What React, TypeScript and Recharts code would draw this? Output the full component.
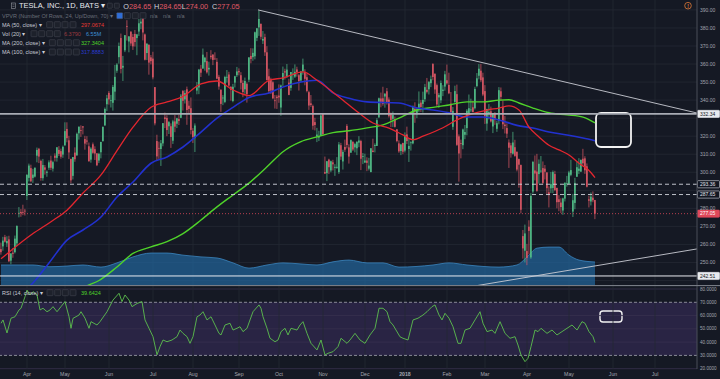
import React from "react";
import { ComposedChart, Bar, Line, Area, XAxis, YAxis, ReferenceLine, ReferenceArea } from "recharts";

type Candle = [number, number, number, number]; // open, high, low, close
type Pt = [number, number]; // bar index, value

// TSLA daily (BATS), 15 Mar 2017 .. 18 May 2018, one array per month
const mar17: Candle[] = [
  [257.4, 261.0, 254.3, 255.7], [258.9, 264.2, 256.5, 262.1], [264.0, 265.3, 261.0, 261.5], [260.6, 264.5, 258.6, 261.9],
  [262.8, 264.8, 250.2, 250.7], [251.0, 255.1, 249.0, 255.0], [255.4, 258.0, 252.6, 254.8], [255.7, 264.9, 255.0, 263.2],
  [260.6, 270.6, 259.0, 270.2], [277.0, 280.7, 275.0, 277.5], [278.0, 279.6, 275.3, 277.4], [278.0, 282.0, 276.2, 277.9],
  [278.7, 279.7, 276.0, 278.3],
];
const apr17: Candle[] = [
  [286.9, 299.0, 284.6, 298.5], [296.9, 304.8, 294.9, 303.7], [302.3, 304.2, 294.5, 295.0], [296.9, 301.9, 294.1, 298.7],
  [297.6, 302.7, 297.1, 302.5], [309.2, 313.7, 305.5, 312.4], [313.0, 313.5, 305.1, 308.7], [306.3, 307.0, 295.3, 296.8],
  [296.7, 307.4, 295.3, 304.0], [302.7, 304.0, 298.7, 301.4], [299.7, 301.0, 297.5, 300.3], [302.5, 306.6, 301.3, 305.5],
  [306.5, 309.2, 301.2, 302.5], [302.0, 306.4, 300.4, 305.6], [309.2, 310.5, 306.0, 308.0], [308.0, 314.0, 305.9, 313.8],
  [312.4, 314.5, 309.0, 310.2], [311.7, 313.1, 307.5, 308.6], [309.8, 314.8, 308.0, 314.1],
];
const may17: Candle[] = [
  [314.9, 327.7, 314.8, 322.8], [324.0, 327.7, 316.6, 318.9], [317.7, 320.2, 307.3, 311.0], [307.4, 307.5, 294.0, 295.5],
  [298.0, 308.5, 296.0, 308.4], [310.9, 313.8, 305.8, 307.2], [309.4, 322.0, 309.1, 321.3], [321.6, 325.5, 318.1, 325.2],
  [323.4, 326.0, 319.6, 323.1], [325.5, 325.5, 321.0, 324.8], [318.4, 320.2, 312.5, 315.9], [317.6, 320.0, 315.3, 317.0],
  [314.4, 316.5, 305.9, 306.1], [307.0, 313.9, 305.3, 313.1], [315.5, 316.5, 310.2, 310.8], [312.8, 314.4, 306.8, 310.4],
  [310.5, 310.5, 303.4, 303.9], [306.5, 310.8, 305.1, 310.2], [311.1, 316.9, 307.7, 316.8], [317.3, 325.5, 316.9, 325.1],
  [326.0, 335.9, 325.7, 335.1], [337.7, 342.9, 333.9, 341.0],
];
const jun17: Candle[] = [
  [344.0, 345.0, 337.5, 340.4], [339.8, 342.9, 335.9, 339.9], [338.5, 348.4, 334.2, 347.3], [344.7, 359.5, 340.0, 352.9],
  [356.3, 360.5, 355.1, 359.7], [363.8, 371.9, 360.2, 370.0], [374.4, 376.9, 354.8, 357.3], [358.0, 364.5, 350.6, 359.0],
  [367.6, 376.0, 366.6, 376.0], [381.1, 384.3, 373.0, 380.7], [372.5, 375.5, 366.5, 375.3], [378.0, 378.0, 370.1, 371.4],
  [375.0, 376.7, 367.8, 369.8], [376.7, 378.9, 369.7, 372.2], [374.4, 376.7, 364.9, 376.4], [378.0, 385.0, 375.5, 382.6],
  [382.5, 387.0, 379.3, 383.5], [386.7, 387.0, 373.1, 377.5], [376.4, 376.9, 362.0, 362.4], [366.1, 371.7, 362.2, 371.2],
  [370.6, 371.0, 354.1, 360.8], [363.7, 365.0, 359.8, 361.6],
];
const jul17: Candle[] = [
  [363.0, 366.8, 351.5, 352.6], [347.2, 347.2, 326.0, 327.1], [317.3, 320.8, 306.3, 308.8], [313.5, 317.0, 307.4, 313.2],
  [312.9, 317.9, 303.5, 316.1], [316.0, 327.3, 314.4, 327.2], [330.4, 333.1, 324.5, 329.5], [330.1, 331.6, 320.0, 323.4],
  [325.5, 328.4, 321.2, 327.8], [325.5, 327.1, 313.5, 319.6], [317.5, 329.1, 315.7, 328.2], [328.2, 331.7, 322.2, 325.3],
  [326.9, 330.2, 324.5, 329.9], [329.5, 331.9, 326.2, 328.4], [330.2, 343.4, 330.0, 342.5], [345.0, 345.6, 334.2, 339.6],
  [340.4, 345.5, 338.1, 343.9], [346.0, 347.5, 326.3, 334.5], [336.9, 339.6, 332.5, 335.1], [335.5, 341.5, 321.0, 323.5],
];
const aug17: Candle[] = [
  [323.0, 324.5, 316.2, 319.6], [318.9, 327.1, 311.2, 325.9], [345.3, 350.0, 343.2, 347.1], [347.0, 357.3, 343.3, 356.9],
  [357.4, 359.5, 352.8, 355.2], [357.5, 368.6, 357.4, 365.2], [361.0, 364.0, 356.3, 363.5], [361.6, 366.7, 354.7, 355.4],
  [357.0, 361.3, 353.6, 357.9], [364.6, 367.7, 362.6, 363.8], [365.2, 365.5, 359.4, 362.3], [363.0, 366.5, 362.5, 362.9],
  [361.2, 363.3, 351.6, 351.9], [352.9, 354.0, 345.8, 347.5], [345.8, 345.8, 333.5, 337.9], [341.1, 342.8, 337.2, 341.4],
  [339.0, 353.5, 338.3, 352.8], [352.5, 356.7, 349.7, 352.9], [354.2, 355.7, 347.3, 348.1], [347.3, 347.8, 339.7, 345.7],
  [339.5, 349.0, 338.8, 347.4], [349.7, 353.5, 347.0, 353.2], [353.8, 358.4, 352.8, 355.9],
];
const sep17: Candle[] = [
  [356.1, 357.6, 353.7, 355.4], [353.8, 355.5, 345.9, 349.6], [349.5, 351.0, 341.6, 344.5], [346.0, 352.5, 343.5, 350.6],
  [349.0, 349.8, 338.6, 343.4], [351.3, 363.7, 350.0, 363.7], [364.5, 368.8, 360.4, 362.8], [363.8, 368.7, 361.8, 366.2],
  [364.3, 378.0, 362.6, 377.6], [374.5, 380.0, 372.7, 379.8], [380.3, 389.6, 375.6, 385.0], [382.3, 382.4, 373.6, 375.1],
  [373.0, 378.3, 371.1, 373.9], [374.9, 376.8, 364.5, 366.5], [366.5, 369.9, 350.9, 351.1], [353.2, 357.4, 343.6, 345.0],
  [351.4, 352.4, 343.4, 345.3], [349.9, 350.5, 340.5, 341.0], [339.9, 342.8, 335.3, 339.6], [341.9, 342.9, 335.1, 341.1],
];
const oct17: Candle[] = [
  [342.5, 348.7, 338.5, 341.5], [335.9, 348.6, 331.3, 348.1], [351.3, 358.6, 347.9, 355.0], [356.0, 357.4, 351.4, 355.3],
  [353.1, 360.0, 352.3, 356.9], [349.7, 351.8, 342.7, 342.9], [346.8, 355.6, 345.2, 355.6], [353.9, 357.6, 351.2, 354.6],
  [353.0, 359.8, 352.3, 355.7], [357.0, 358.5, 353.0, 355.6], [353.8, 354.5, 345.3, 350.6], [350.9, 356.2, 350.1, 355.8],
  [356.0, 363.0, 354.1, 359.7], [355.6, 357.1, 348.2, 351.8], [352.7, 354.6, 344.3, 345.1], [344.4, 345.2, 334.6, 337.0],
  [338.2, 342.8, 336.2, 337.3], [336.7, 337.5, 323.6, 325.8], [327.8, 330.2, 323.2, 326.2], [319.8, 324.6, 316.7, 320.9],
  [319.2, 323.0, 317.3, 320.1], [320.2, 332.0, 320.2, 331.5],
];
const nov17: Candle[] = [
  [332.3, 332.6, 320.3, 321.1], [300.1, 308.7, 299.0, 299.3], [299.5, 306.3, 295.1, 306.1], [307.0, 307.5, 299.0, 302.8],
  [301.0, 306.5, 300.0, 306.1], [305.5, 306.9, 301.0, 304.4], [302.5, 304.5, 298.0, 303.0], [302.5, 308.4, 301.9, 303.0],
  [300.1, 316.8, 299.1, 315.4], [315.0, 316.3, 306.9, 308.7], [306.0, 312.5, 301.5, 311.3], [314.0, 318.1, 311.3, 312.5],
  [325.7, 326.7, 313.2, 315.1], [313.8, 315.5, 304.8, 308.7], [310.9, 318.2, 310.7, 317.8], [316.8, 317.4, 311.8, 312.6],
  [313.8, 316.4, 311.0, 315.6], [313.3, 317.3, 309.5, 316.8], [316.4, 320.0, 313.9, 317.6], [317.3, 318.0, 301.2, 307.5],
  [308.6, 310.7, 304.5, 308.9],
];
const dec17: Candle[] = [
  [305.4, 310.3, 305.1, 306.5], [306.5, 308.3, 300.6, 305.2], [302.0, 308.0, 301.0, 303.7], [300.1, 313.4, 300.0, 313.3],
  [312.0, 318.6, 311.1, 311.2], [314.6, 316.0, 311.0, 315.1], [314.6, 330.0, 314.6, 328.9], [330.5, 341.4, 330.0, 341.0],
  [340.9, 344.2, 336.0, 339.0], [341.0, 347.4, 336.9, 337.9], [342.0, 343.9, 335.8, 343.5], [344.9, 346.7, 337.5, 338.9],
  [340.3, 341.5, 330.3, 331.1], [332.7, 333.1, 325.0, 329.0], [329.6, 333.7, 325.1, 331.7], [329.5, 330.9, 324.8, 325.2],
  [323.8, 323.9, 316.6, 317.3], [316.0, 317.7, 310.8, 311.6], [311.8, 315.8, 309.5, 315.4], [316.2, 316.4, 310.0, 311.4],
];
const jan18: Candle[] = [
  [312.0, 322.1, 311.0, 320.5], [321.0, 325.3, 315.6, 317.3], [312.9, 318.6, 305.7, 314.6], [316.6, 317.2, 312.0, 316.6],
  [316.0, 337.0, 315.5, 336.4], [335.2, 338.8, 327.4, 333.7], [332.2, 336.2, 330.0, 334.8], [335.2, 344.8, 333.3, 338.0],
  [338.6, 340.0, 333.4, 336.2], [337.9, 344.7, 333.1, 340.1], [340.5, 349.0, 339.0, 347.2], [345.7, 352.3, 343.7, 344.6],
  [346.0, 350.6, 343.1, 350.0], [349.4, 353.6, 347.2, 351.6], [360.0, 360.5, 351.0, 352.8], [354.6, 354.8, 343.5, 345.9],
  [348.3, 349.2, 336.4, 337.6], [341.5, 344.0, 335.7, 342.9], [339.9, 350.9, 338.3, 349.5], [345.1, 348.3, 342.2, 345.8],
  [347.5, 356.2, 345.2, 354.3],
];
const feb18: Candle[] = [
  [351.0, 359.7, 348.6, 349.3], [348.4, 355.2, 343.3, 343.8], [338.0, 344.5, 332.5, 333.1], [325.2, 336.2, 323.5, 334.0],
  [339.0, 348.0, 338.5, 345.0], [343.3, 348.6, 314.6, 315.2], [319.9, 321.0, 294.8, 310.4], [316.1, 318.1, 307.7, 315.7],
  [315.0, 324.2, 312.8, 323.7], [320.8, 326.2, 318.3, 322.3], [324.5, 335.0, 320.5, 334.1], [332.5, 343.1, 332.1, 335.5],
  [334.5, 340.8, 333.3, 334.8], [336.0, 339.7, 333.3, 333.3], [335.5, 347.4, 334.8, 346.2], [347.8, 355.0, 347.1, 352.1],
  [353.5, 360.0, 351.5, 357.4], [356.3, 360.0, 350.0, 351.0], [352.6, 355.2, 342.2, 343.1],
];
const mar18: Candle[] = [
  [345.0, 348.3, 326.8, 330.9], [327.0, 335.2, 323.0, 335.1], [332.4, 337.8, 329.3, 333.4], [333.8, 336.4, 327.6, 328.2],
  [325.4, 332.5, 321.7, 332.3], [332.9, 333.3, 326.3, 329.1], [324.1, 328.5, 322.4, 327.2], [328.6, 347.2, 326.6, 345.5],
  [344.9, 347.0, 339.7, 341.8], [336.3, 339.8, 323.9, 326.6], [326.4, 331.2, 321.5, 325.6], [324.5, 327.1, 319.0, 321.4],
  [316.5, 318.2, 302.4, 313.6], [314.9, 316.3, 308.1, 310.6], [310.3, 322.4, 309.8, 316.5], [313.9, 318.0, 308.6, 309.1],
  [311.3, 311.6, 300.5, 301.5], [307.3, 307.6, 291.4, 304.2], [304.0, 304.3, 277.2, 279.2], [264.6, 268.0, 252.1, 257.8],
  [256.5, 271.0, 250.0, 266.1],
];
const apr18: Candle[] = [
  [256.3, 260.3, 248.5, 252.5], [269.8, 273.4, 254.5, 267.5], [252.8, 288.4, 252.0, 286.9], [289.3, 306.3, 288.2, 305.7],
  [301.0, 309.3, 295.5, 299.3], [300.4, 310.2, 289.2, 289.7], [299.0, 307.1, 293.7, 304.7], [300.7, 309.0, 299.7, 300.9],
  [302.3, 306.0, 293.2, 294.1], [302.0, 304.0, 296.0, 300.3], [299.9, 300.0, 288.0, 291.2], [288.9, 292.2, 280.5, 287.7],
  [291.1, 300.2, 288.5, 293.4], [291.3, 301.0, 288.4, 300.1], [299.0, 300.8, 289.5, 290.2], [291.3, 291.5, 280.0, 283.4],
  [285.0, 287.3, 278.4, 283.5], [283.2, 285.6, 277.4, 280.7], [278.8, 285.9, 276.4, 285.5], [285.4, 294.5, 283.8, 294.1],
  [293.6, 298.0, 292.0, 293.9],
];
const may18: Candle[] = [
  [293.6, 300.8, 293.3, 299.9], [298.6, 306.9, 297.8, 301.2], [278.2, 288.0, 275.2, 284.5], [283.0, 296.9, 279.5, 294.1],
  [297.5, 306.0, 297.5, 302.8], [300.8, 307.8, 299.0, 302.0], [300.4, 307.0, 300.1, 306.9], [307.5, 313.0, 304.1, 305.0],
  [307.7, 308.9, 299.1, 301.1], [303.3, 304.9, 291.6, 292.0], [285.0, 287.0, 280.5, 284.2], [283.8, 288.8, 281.6, 286.5],
  [285.9, 289.4, 283.4, 284.5], [284.65, 284.65, 274.0, 277.05],
];

const candles: Candle[] = [
  ...mar17, ...apr17, ...may17, ...jun17, ...jul17, ...aug17, ...sep17, ...oct17,
  ...nov17, ...dec17, ...jan18, ...feb18, ...mar18, ...apr18, ...may18,
];

// first bar of each month (bar index) and its label
const monthTicks = [13, 32, 54, 76, 96, 119, 139, 161, 182, 202, 223, 242, 263, 284, 306, 327];
const monthLabels = ["Apr", "May", "Jun", "Jul", "Aug", "Sep", "Oct", "Nov", "Dec", "2018", "Feb", "Mar", "Apr", "May", "Jun", "Jul"];

const priceTicks = [250, 260, 270, 280, 300, 310, 320, 340, 350, 360, 370, 380, 390];
const priceGrid = [240, 250, 260, 270, 280, 290, 300, 310, 320, 330, 340, 350, 360, 370, 380, 390];
const rsiTicks = [20, 30, 40, 50, 60, 70, 80];
const rsiGrid = [20, 40, 50, 60, 80];

const ma50: Pt[] = [
  [0, 252], [16, 266], [25, 272.6], [33, 279], [41, 288.5], [50, 298.5], [58, 312], [66, 325], [75, 336], [83, 339],
  [91, 342], [100, 349], [108, 350.6], [116, 345.6], [124, 342.5], [134, 351], [141, 352.3], [151, 355.6], [158, 351],
  [169, 341.7], [179, 332.8], [186, 327.3], [194, 324.5], [201, 320.7], [206, 318], [211, 320], [221, 324.7], [228, 329],
  [234, 331.8], [243, 334.5], [249, 335.6], [254, 336.8], [259, 334.5], [264, 325], [269, 319.6], [274, 315], [279, 312.4],
  [284, 309.6], [289, 305], [294, 301], [297, 297.07],
];
const ma100: Pt[] = [
  [0, 226], [8, 231], [15, 237.5], [24, 249.7], [33, 262.4], [41, 268], [50, 275.2], [58, 286.3], [66, 294.6], [75, 305],
  [83, 308.5], [91, 314], [100, 322.3], [108, 330], [116, 336], [124, 341.5], [134, 344], [141, 347.3], [150, 350],
  [158, 351], [166, 344], [174, 341], [183, 339], [199, 338.4], [208, 335.6], [216, 334.5], [224, 333], [233, 330.6],
  [241, 330.6], [249, 329], [258, 326], [266, 324.5], [274, 322.3], [283, 320.7], [291, 319], [297, 317.5],
];
const ma200: Pt[] = [
  [30, 231], [44, 237.5], [49, 240], [58, 247.5], [66, 255], [75, 258.6], [83, 261.5], [91, 266], [100, 273.5],
  [108, 280.8], [116, 287.4], [124, 294], [133, 303], [141, 311.4], [150, 317], [158, 319.6], [166, 322], [174, 323],
  [183, 324.6], [191, 326.3], [199, 330], [208, 334.5], [216, 336], [224, 337.3], [233, 339], [241, 339], [249, 340],
  [254, 340.2], [259, 338.4], [266, 335.6], [274, 333], [283, 331.8], [291, 330.6], [297, 327.34],
];
// 20-day volume average, millions
const volMa: Pt[] = [
  [0, 5.7], [16, 5.7], [24, 5.2], [33, 5.4], [41, 5.7], [50, 5.1], [58, 6.3], [66, 8.0], [75, 9.1], [83, 9.1], [91, 8.5],
  [100, 8.0], [108, 7.7], [116, 6.3], [124, 4.8], [133, 5.7], [141, 6.3], [150, 6.0], [158, 5.7], [166, 6.6], [174, 7.1],
  [183, 6.3], [191, 6.3], [199, 5.1], [216, 5.7], [224, 6.3], [233, 5.7], [249, 5.1], [258, 5.7], [263, 8.0], [268, 10.5],
  [274, 10.8], [279, 10.8], [284, 8.5], [289, 7.1], [297, 6.55],
];
const rsi14: Pt[] = [
  [0, 54.2], [1, 56.7], [3, 46.9], [5, 58], [7, 59.1], [9, 64.2], [10, 65.5], [12, 74.2], [13, 79.2], [14.5, 75.5],
  [16, 78], [18, 75.5], [19.5, 64.2], [21, 65.5], [23, 62.9], [24.5, 64.2], [26, 66.7], [28, 62.9], [30, 66.7], [32, 70.5],
  [34, 59.1], [35, 50.4], [36, 57.9], [39, 60.4], [40, 62.9], [42, 58], [44, 50.4], [45, 55.4], [48, 52.9], [49.5, 55.4],
  [53, 62.9], [56, 71.7], [59, 76.8], [60.5, 70.5], [62, 75.5], [64, 71.7], [65.5, 66.7], [68, 69.1], [70.5, 70.5],
  [72, 56.7], [74, 50.4], [76, 44.1], [78, 30.5], [79.5, 36.6], [81, 41.6], [83, 40.3], [85.5, 41.6], [88, 44.1],
  [89.5, 49.1], [91, 46.6], [93, 44.1], [94.5, 39.1], [96, 44.1], [98, 59.1], [99.5, 60.4], [101, 62.9], [103, 56.7],
  [105, 59.1], [107, 52.9], [109, 46.6], [110, 45.4], [112, 52.9], [114.5, 54.2], [116, 49.1], [118, 50.4], [119.5, 51.6],
  [121, 47.9], [123, 50.4], [124.5, 56.7], [126, 62.9], [129, 68], [130, 65.5], [131, 59.1], [133, 50.4], [134.5, 42.9],
  [137, 40.3], [138.5, 41.6], [140, 47.9], [142, 50.4], [143.5, 45.4], [145, 50.4], [148, 49.1], [149.5, 52.9],
  [151, 55.4], [153, 46.6], [155, 39.1], [158, 34.1], [160, 41.6], [162, 30.3], [163.5, 31.6], [166, 32.8], [168.5, 36.6],
  [170, 42.9], [173, 39.1], [174.5, 41.6], [177, 46.6], [179.5, 41.6], [182, 39.1], [184.5, 45.4], [187, 50.4],
  [189, 65.5], [191, 65.5], [193, 62.9], [194.5, 55.4], [196, 52.9], [199.5, 44], [201, 42.9], [203.5, 41.6], [206, 56.7],
  [208.5, 58], [211, 60.4], [213, 62.9], [215.5, 66.7], [217, 68], [219, 60.4], [220.5, 56.7], [222, 61.7], [224, 58],
  [226, 51.6], [228.5, 39.1], [230, 39.1], [232, 49.1], [234.5, 50.4], [237, 56.7], [239.5, 62.9], [241, 54.2],
  [243, 47.9], [245.5, 49.1], [247, 46.6], [249.5, 55.4], [252, 46.6], [254.5, 42.9], [257, 44.1], [258.5, 37.8],
  [260, 30.3], [262, 25.3], [263.5, 27.8], [265, 36.6], [267, 49.1], [268.5, 47.9], [270, 50.4], [273, 46.6],
  [275.5, 49.1], [278, 45.4], [280.5, 47.9], [283, 50.4], [285.5, 52.9], [288, 49.1], [290.5, 55.4], [292, 54.2],
  [294, 47.9], [296, 44.1], [297, 39.64],
];

// drawings (bar index / price)
const resistance = 332.34;
const support = 242.51;
const dashedLevels = [293.36, 287.65];
const upperTrend: Pt[] = [[128.5, 390.0], [348, 332.85]];
const lowerTrend: Pt[] = [[236, 236.8], [348, 257.5]];
const mainBox = { x1: 297.5, x2: 315, y1: 314, y2: 332.9 };
const rsiBox = { x1: 299.5, x2: 310.5, y1: 55.1, y2: 63.4 };

const xDomain = [-0.5, 348];
const priceDomain = [237.5, 395.5];
const volDomain = [0, 81.2];
const rsiDomain = [19.76, 82.26];

const BG = "#151924";
const GRID = "#242834";
const AXIS = "#a3a6af";
const UP = "#53c28b";
const DOWN = "#e05a67";
const FONT = "'Liberation Sans', Arial, sans-serif";

const last = candles[candles.length - 1];

const rows: Record<string, any>[] = candles.map(([o, h, l, c], i) => ({ i, o, h, l, c, range: [l, h] }));
const put = (pts: Pt[], key: string) => pts.forEach(([i, v]) => { rows[i][key] = v; });
put(ma50, "ma50");
put(ma100, "ma100");
put(ma200, "ma200");
put(volMa, "vol");
const rsiRows = rsi14.map(([i, v]) => ({ i, rsi: v }));

function CandleShape(props: any) {
  const { x, y, width, height, payload } = props;
  if (!payload || y == null) return null;
  const { o, h, l, c } = payload;
  const top = Math.min(y, y + height);
  const span = Math.abs(height);
  const py = (v: number) => (h === l ? top : top + ((h - v) / (h - l)) * span);
  const cx = x + width / 2;
  const col = c >= o ? UP : DOWN;
  const bTop = py(Math.max(o, c));
  const bH = Math.max(0.8, py(Math.min(o, c)) - bTop);
  return (
    <g>
      <line x1={cx} x2={cx} y1={top} y2={top + span} stroke={col} strokeWidth={0.7} />
      <rect x={cx - 0.75} y={bTop} width={1.5} height={bH} fill={col} />
    </g>
  );
}

const tag = (text: string, bg: string, fg: string, border: string) => (p: any) => {
  const vb = p.viewBox || {};
  const x = vb.x + vb.width;
  const y = vb.y;
  return (
    <g>
      <rect x={x + 0.5} y={y - 3.6} width={22} height={7.2} rx={0.8} fill={bg} stroke={border} strokeWidth={0.6} />
      <text x={x + 3} y={y + 1.8} fontSize={5} fill={fg} fontFamily={FONT}>{text}</text>
    </g>
  );
};

const RoundBox = (w: number, r: number) => (p: any) => (
  <rect x={p.x} y={p.y} width={p.width} height={p.height} rx={r} fill="none" stroke="#f2f2f2" strokeWidth={w} />
);

function MonthTick(props: any) {
  const { x, y, payload } = props;
  const label = monthLabels[monthTicks.indexOf(payload.value)];
  return (
    <text x={x} y={y + 4.8} textAnchor="middle" fontSize={5.2} fill={AXIS} fontFamily={FONT} fontWeight={label === "2018" ? 700 : 400}>
      {label}
    </text>
  );
}

function Buttons({ xs, y, size = 6, active = -1 }: { xs: number[]; y: number; size?: number; active?: number }) {
  return (
    <>
      {xs.map((x, k) => (
        <rect key={k} x={x} y={y - size / 2} width={size} height={size} rx={0.6}
          fill={k === active ? "#2f6ed8" : "#1d212b"} stroke="#4a4e59" strokeWidth={0.5} />
      ))}
    </>
  );
}

function Header() {
  const t = (x: number, y: number, s: string, fill: string, size = 5.5) => (
    <text x={x} y={y} fontSize={size} fill={fill} dominantBaseline="central">{s}</text>
  );
  const ohlc = (x: number, k: string, v: number) => (
    <text x={x} y={5.7} fontSize={7.3} dominantBaseline="central">
      <tspan fill="#d1d4dc">{k}</tspan>
      <tspan fill={DOWN}>{v.toFixed(2)}</tspan>
    </text>
  );
  return (
    <svg width={720} height={379} style={{ position: "absolute", left: 0, top: 0, pointerEvents: "none" }} fontFamily={FONT}>
      <rect x={11.5} y={3} width={4} height={5.4} fill="none" stroke="#9598a1" strokeWidth={0.6} />
      <line x1={12.5} x2={14.5} y1={4.8} y2={4.8} stroke="#9598a1" strokeWidth={0.5} />
      <line x1={12.5} x2={14.5} y1={6.5} y2={6.5} stroke="#9598a1" strokeWidth={0.5} />
      {t(19, 5.7, "TESLA, INC., 1D, BATS ▾", "#e6e8ee", 7.5)}
      <Buttons xs={[107.3, 114.3]} y={5.7} size={5} />
      {ohlc(123.3, "O", last[0])}
      {ohlc(154, "H", last[1])}
      {ohlc(181.7, "L", last[2])}
      {ohlc(212, "C", last[3])}

      {t(2, 15.7, "VPVR (Number Of Rows, 24, Up/Down, 70) ▾", "#6b6f7a")}
      <Buttons xs={[116.7, 124.3, 132.3, 140]} y={15.7} active={0} />
      {t(150, 15.7, "n/a", "#6b6f7a")}
      {t(163, 15.7, "n/a", "#6b6f7a")}
      {t(177, 15.7, "n/a", "#6b6f7a")}

      {t(2, 24.7, "MA (50, close) ▾", "#c9ccd4")}
      <Buttons xs={[46.7, 54.3, 62, 70]} y={24.7} />
      {t(81, 24.7, "297.0674", "#e53935")}

      {t(2, 33.7, "Vol (20) ▾", "#c9ccd4")}
      <Buttons xs={[31, 38.7, 46.7, 54.3]} y={33.7} />
      {t(64, 33.7, "6.3790", "#9a3a40")}
      {t(86, 33.7, "6.55M", "#3d8fd6")}

      {t(2, 42.7, "MA (200, close) ▾", "#c9ccd4")}
      <Buttons xs={[49.3, 57.3, 65.3, 73.3]} y={42.7} />
      {t(81, 42.7, "327.3404", "#4fd32a")}

      {t(2, 52, "MA (100, close) ▾", "#c9ccd4")}
      <Buttons xs={[49.3, 57.3, 65.3, 73.3]} y={52} />
      {t(81, 52, "317.8883", "#2a3bd0")}

      <circle cx={688} cy={5.7} r={3.3} fill="none" stroke="#e07b39" strokeWidth={0.8} />
      <text x={688} y={5.9} fontSize={5} fill="#e07b39" textAnchor="middle" dominantBaseline="central" fontWeight={700}>!</text>

      <line x1={0} x2={720} y1={285.6} y2={285.6} stroke="#9ea1aa" strokeWidth={0.8} />

      {t(2, 292.7, "RSI (14, close) ▾", "#c9ccd4")}
      <Buttons xs={[47, 54.7, 62.3, 70]} y={292.7} />
      {t(81, 292.7, "39.6424", "#4fd32a")}
    </svg>
  );
}

export default function App() {
  return (
    <div style={{ position: "fixed", left: 0, top: 0, width: 720, height: 379, background: BG, fontFamily: FONT, overflow: "hidden" }}>
      <ComposedChart width={720} height={286} data={rows} margin={{ top: 0, right: 0, bottom: 1, left: 0 }}>
        <XAxis dataKey="i" type="number" domain={xDomain} allowDataOverflow ticks={monthTicks} hide />
        <YAxis yAxisId="vol" hide domain={volDomain} allowDataOverflow />
        <YAxis yAxisId="price" orientation="right" domain={priceDomain} allowDataOverflow ticks={priceTicks} interval={0}
          tickFormatter={(v: number) => v.toFixed(2)} width={23} tickLine={false} tickSize={0} tickMargin={3}
          tick={{ fontSize: 5, fill: AXIS }} axisLine={{ stroke: "#4a4e59" }} />
        {priceGrid.map((v) => (
          <ReferenceLine key={"g" + v} yAxisId="price" y={v} stroke={GRID} strokeWidth={0.8} zIndex={-100} />
        ))}
        {monthTicks.map((m) => (
          <ReferenceLine key={"m" + m} yAxisId="price" x={m} stroke={GRID} strokeWidth={0.8} zIndex={-100} />
        ))}
        <Area yAxisId="vol" dataKey="vol" type="monotone" connectNulls fill="#22679e" fillOpacity={0.7}
          stroke="#3b86c0" strokeWidth={0.8} activeDot={false} isAnimationActive={false} />
        <Bar yAxisId="price" dataKey="range" shape={CandleShape} barSize={2} activeBar={false} isAnimationActive={false} />
        <Line yAxisId="price" dataKey="ma200" type="monotone" connectNulls dot={false} activeDot={false} stroke="#4fd32a" strokeWidth={1.4} isAnimationActive={false} />
        <Line yAxisId="price" dataKey="ma100" type="monotone" connectNulls dot={false} activeDot={false} stroke="#2231cf" strokeWidth={1.6} isAnimationActive={false} />
        <Line yAxisId="price" dataKey="ma50" type="monotone" connectNulls dot={false} activeDot={false} stroke="#e3262f" strokeWidth={1.3} isAnimationActive={false} />
        <ReferenceLine yAxisId="price" y={resistance} stroke="#a9acb5" strokeWidth={1.8}
          label={tag(resistance.toFixed(2), "#e8eaef", "#131722", "#e8eaef")} />
        {dashedLevels.map((v) => (
          <ReferenceLine key={"d" + v} yAxisId="price" y={v} stroke="#d1d4dc" strokeWidth={0.9} strokeDasharray="4 3"
            label={tag(v.toFixed(2), "#131722", "#e0e3eb", "#d1d4dc")} />
        ))}
        <ReferenceLine yAxisId="price" y={last[3]} stroke="#e0485a" strokeWidth={0.8} strokeDasharray="1 2"
          label={tag(last[3].toFixed(2), "#e0485a", "#ffffff", "#e0485a")} />
        <ReferenceLine yAxisId="price" y={support} stroke="#e8eaef" strokeWidth={1}
          label={tag(support.toFixed(2), "#e8eaef", "#131722", "#e8eaef")} />
        <ReferenceLine yAxisId="price" ifOverflow="hidden" stroke="#c9ccd4" strokeWidth={0.9}
          segment={[{ x: upperTrend[0][0], y: upperTrend[0][1] }, { x: upperTrend[1][0], y: upperTrend[1][1] }]} />
        <ReferenceLine yAxisId="price" ifOverflow="hidden" stroke="#c9ccd4" strokeWidth={0.9}
          segment={[{ x: lowerTrend[0][0], y: lowerTrend[0][1] }, { x: lowerTrend[1][0], y: lowerTrend[1][1] }]} />
        <ReferenceArea yAxisId="price" x1={mainBox.x1} x2={mainBox.x2} y1={mainBox.y1} y2={mainBox.y2} shape={RoundBox(1.8, 5)} />
      </ComposedChart>

      <ComposedChart width={720} height={93} data={rsiRows} margin={{ top: 0, right: 0, bottom: 0, left: 0 }}>
        <XAxis dataKey="i" type="number" domain={xDomain} allowDataOverflow ticks={monthTicks} interval={0} height={10}
          axisLine={false} tickLine={false} tickSize={0} tickMargin={2} tick={<MonthTick />} />
        <YAxis orientation="right" domain={rsiDomain} allowDataOverflow ticks={rsiTicks} interval={0}
          tickFormatter={(v: number) => v.toFixed(4)} width={23} tickLine={false} tickSize={0} tickMargin={3}
          tick={{ fontSize: 4.6, fill: AXIS }} axisLine={{ stroke: "#4a4e59" }} />
        <ReferenceArea y1={30} y2={70} fill="#7b4fc9" fillOpacity={0.2} stroke="none" />
        {rsiGrid.map((v) => (
          <ReferenceLine key={"r" + v} y={v} stroke="#37314e" strokeWidth={0.8} />
        ))}
        {monthTicks.map((m) => (
          <ReferenceLine key={"rm" + m} x={m} stroke={GRID} strokeWidth={0.8} />
        ))}
        <ReferenceLine y={70} stroke="#a3a6af" strokeWidth={0.8} strokeDasharray="3 2" />
        <ReferenceLine y={30} stroke="#a3a6af" strokeWidth={0.8} strokeDasharray="3 2" />
        <Line dataKey="rsi" type="linear" dot={false} activeDot={false} stroke="#5cbf4e" strokeWidth={0.9} isAnimationActive={false} />
        <ReferenceArea x1={rsiBox.x1} x2={rsiBox.x2} y1={rsiBox.y1} y2={rsiBox.y2} shape={RoundBox(1.4, 3)} />
      </ComposedChart>

      <Header />
    </div>
  );
}
